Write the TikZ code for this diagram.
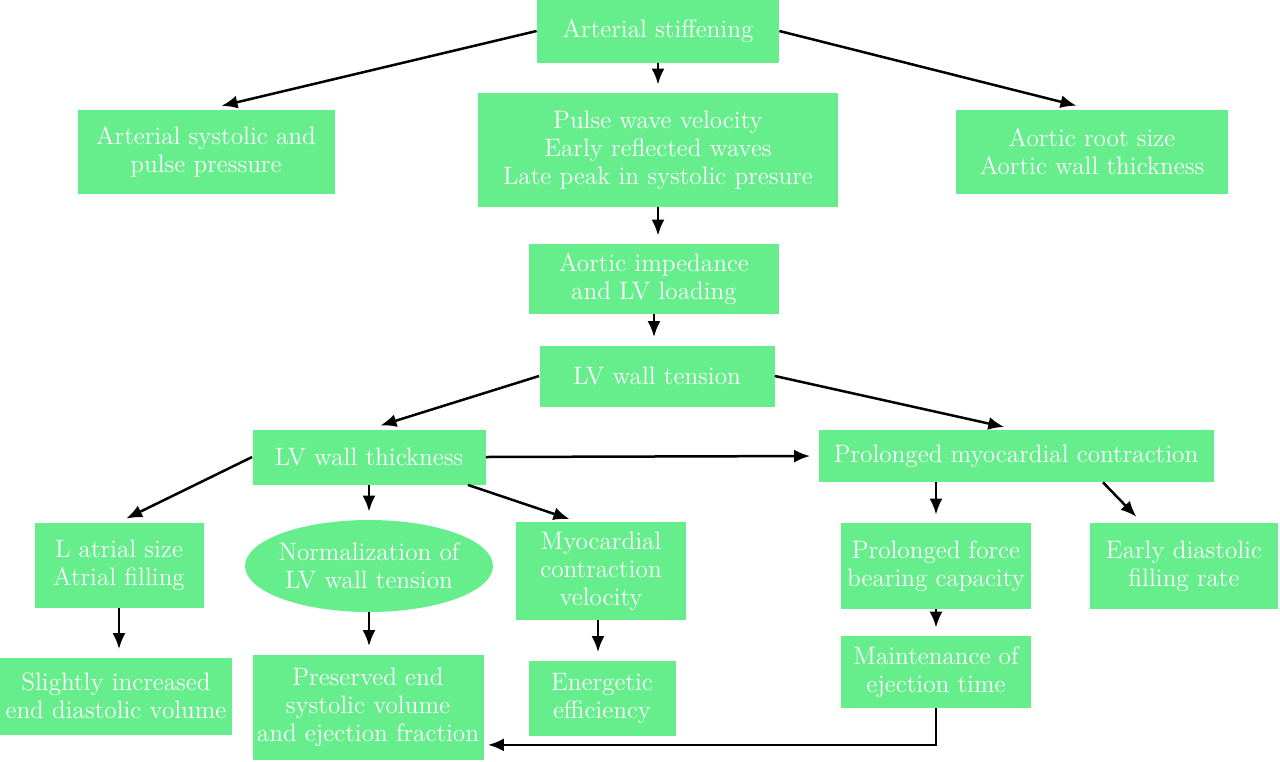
\documentclass[tikz,border=0pt]{standalone}
\usetikzlibrary{shapes.geometric,arrows.meta}
\begin{document}
\begin{tikzpicture}[x=0.5pt,y=-0.5pt]
  \definecolor{boxgreen}{HTML}{66EE8C}
  \tikzstyle{every node}=[font=\fontsize{12.6}{14}\selectfont, text=white, align=center]
  \tikzstyle{box}=[fill=boxgreen, inner sep=0pt]
  \tikzstyle{link}=[-{Latex[length=8pt,width=6.5pt]}, line width=1.25pt, shorten >=4pt]
  \useasboundingbox (0,0) rectangle (1280,761);

  % top rows
  \node[box, minimum width=121pt, minimum height=31.5pt] (stiff) at (658,31) {Arterial stiffening};
  \node[box, minimum width=128.5pt, minimum height=42pt] (syst) at (206,152) {Arterial systolic and\\pulse pressure};
  \node[box, minimum width=180pt, minimum height=57pt] (pwv) at (658,150) {Pulse wave velocity\\Early reflected waves\\Late peak in systolic presure};
  \node[box, minimum width=136pt, minimum height=42pt] (root) at (1092,152) {Aortic root size\\Aortic wall thickness};
  \node[box, minimum width=125pt, minimum height=35pt] (imped) at (654,279) {Aortic impedance\\and LV loading};
  \node[box, minimum width=117.5pt, minimum height=30.5pt] (tension) at (657,376) {LV wall tension};
  \node[box, minimum width=116.5pt, minimum height=27.5pt] (thick) at (369,457) {LV wall thickness};
  \node[box, minimum width=197.5pt, minimum height=26pt] (prol) at (1016,456) {Prolonged myocardial contraction};

  % lower rows
  \node[box, minimum width=84.5pt, minimum height=42.5pt] (atrial) at (119,565) {L atrial size\\Atrial filling};
  \node[box, ellipse, inner xsep=-4pt, minimum width=124pt, minimum height=46pt] (norm) at (369,566) {Normalization of\\LV wall tension};
  \node[box, minimum width=85pt, minimum height=49pt] (velo) at (601,571) {Myocardial\\contraction\\velocity};
  \node[box, minimum width=95pt, minimum height=43pt] (force) at (936,566) {Prolonged force\\bearing capacity};
  \node[box, minimum width=94pt, minimum height=43pt] (early) at (1184,566) {Early diastolic\\filling rate};
  \node[box, minimum width=116pt, minimum height=38.5pt] (edv) at (116,696) {Slightly increased\\end diastolic volume};
  \node[box, minimum width=115.5pt, minimum height=52.5pt] (pres) at (368,707) {Preserved end\\systolic volume\\and ejection fraction};
  \node[box, minimum width=73.5pt, minimum height=37.5pt] (energ) at (602,698) {Energetic\\efficiency};
  \node[box, minimum width=95pt, minimum height=36pt] (maint) at (936,672) {Maintenance of\\ejection time};

  % arrows
  \draw[link, shorten >=8pt] (stiff.west) -- (syst.north);
  \draw[link] (stiff.south) -- (pwv.north);
  \draw[link, shorten >=8pt] (stiff.east) -- (root.north);
  \draw[link] (pwv.south) -- (pwv.south |- imped.north);
  \draw[link] (imped.south) -- (imped.south |- tension.north);
  \draw[link, shorten >=6pt] (tension.west) -- (thick.north);
  \draw[link, shorten >=6pt] (tension.east) -- (prol.north);
  \draw[link] (thick.east) -- (prol.west);
  \draw[link] (thick.west) -- (atrial.north);
  \draw[link] (thick.south) -- (norm.north);
  \draw[link] ([xshift=-9pt]thick.south east) -- ([xshift=-12pt]velo.north);
  \draw[link] (force.north |- prol.south) -- (force.north);
  \draw[link] ([xshift=43.5pt]prol.south) -- ([xshift=-21pt]early.north);
  \draw[link] (atrial.south) -- (edv.north -| atrial.south);
  \draw[link] (norm.south) -- (pres.north -| norm.south);
  \draw[link] ([xshift=-1.5pt]velo.south) -- ([xshift=-1.5pt]velo.south |- energ.north);
  \draw[link] (force.south) -- (maint.north);
  \draw[link, shorten >=2pt] (maint.south) |- ([yshift=7.5pt]pres.south east);
\end{tikzpicture}
\end{document}
